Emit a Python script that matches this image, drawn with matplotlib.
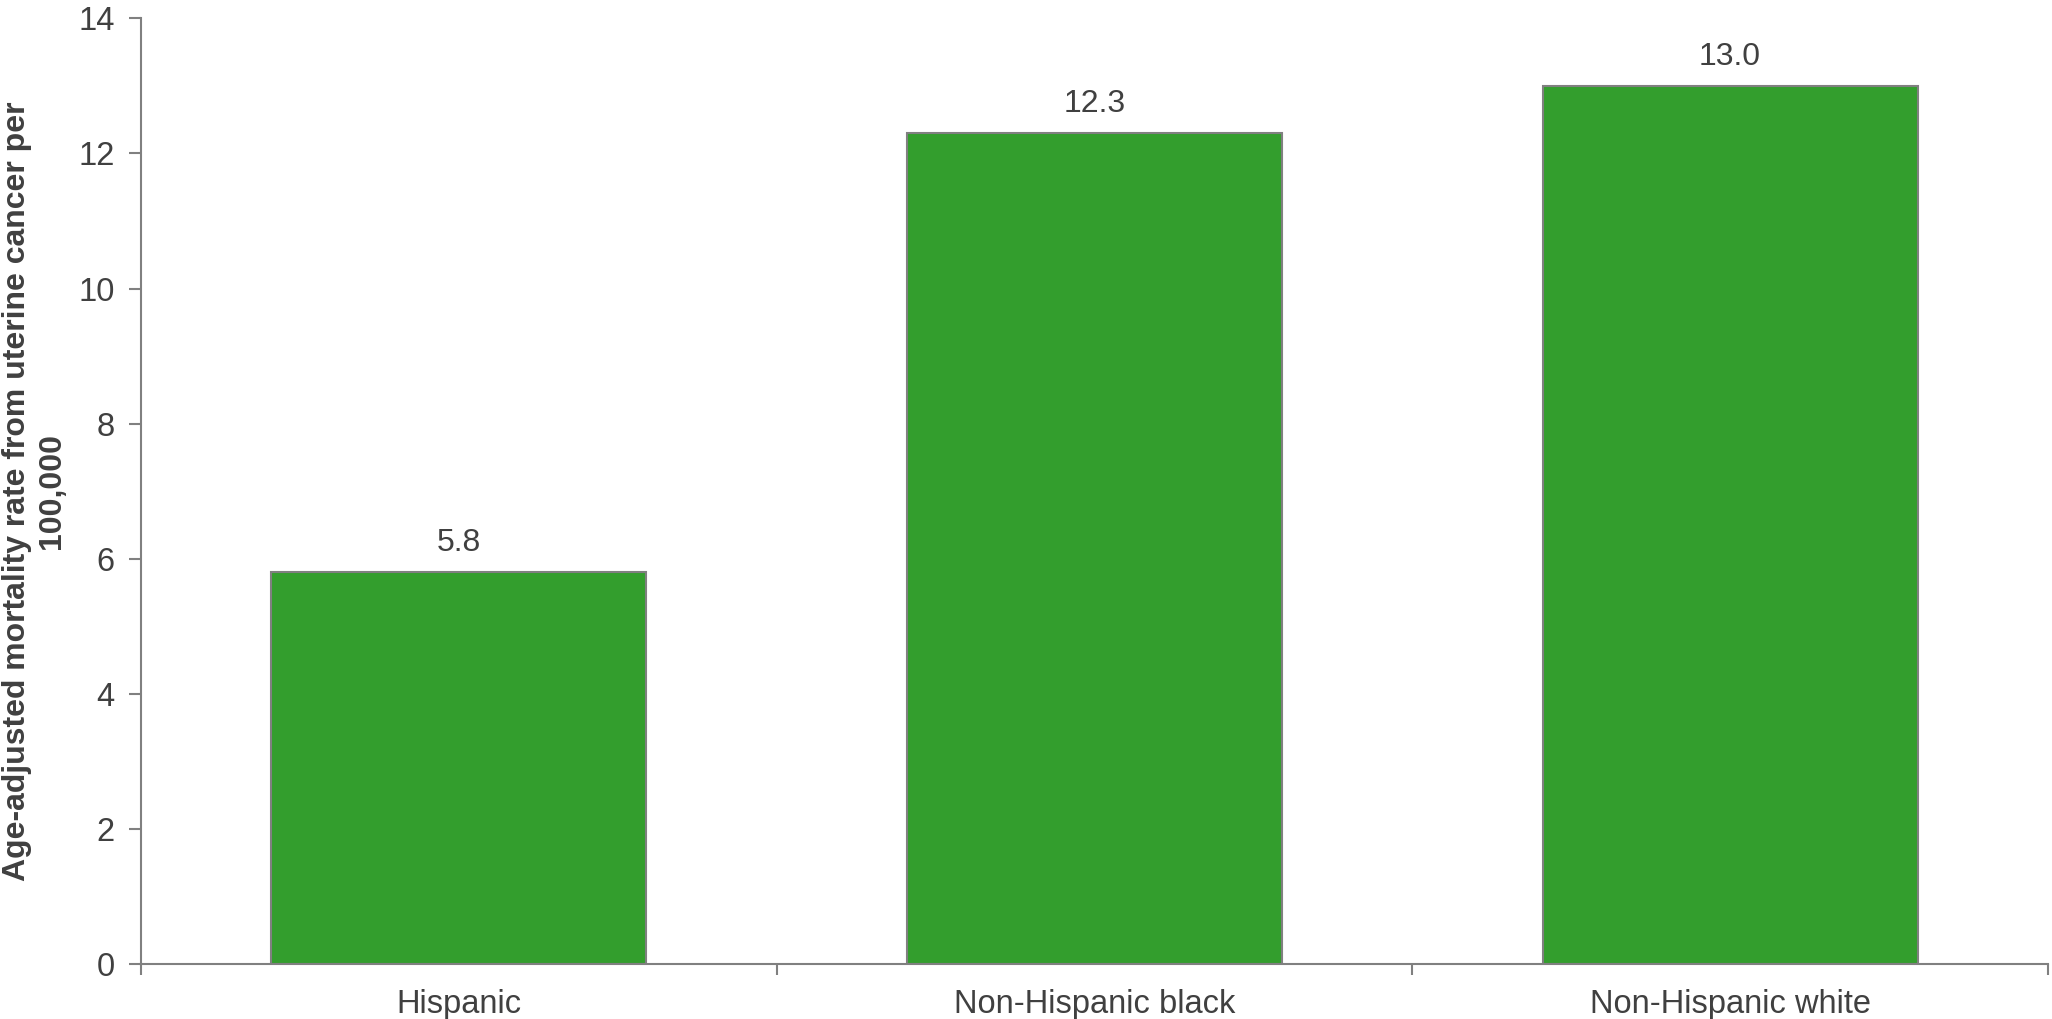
import matplotlib
matplotlib.use("Agg")
import matplotlib.pyplot as plt
import numpy as np

categories = ["Hispanic", "Non-Hispanic black", "Non-Hispanic white"]
values = [5.8, 12.3, 13.0]
value_labels = ["5.8", "12.3", "13.0"]
yticks = [0, 2, 4, 6, 8, 10, 12, 14]

plt.rcParams['font.family'] = ['Liberation Sans', 'DejaVu Sans']
txt = '#404040'
axc = '#808080'

fig = plt.figure(figsize=(20.52, 10.19), dpi=100)
ax = fig.add_axes([0.0687, 0.054, 0.9293, 0.928])

x = np.arange(len(categories))
bars = ax.bar(x, values, width=0.59, color='#339E2D', edgecolor=axc, linewidth=1.5, zorder=2)

for b, lab in zip(bars, value_labels):
    ax.annotate(lab, (b.get_x() + b.get_width() / 2, b.get_height()),
                xytext=(0, 10), textcoords='offset points',
                ha='center', va='bottom', fontsize=23, color=txt)

ax.set_xlim(-0.5, len(categories) - 0.5)
ax.set_ylim(0, 14)
ax.set_yticks(yticks)
ax.set_yticklabels([str(t) for t in yticks])

# category boundaries get the tick marks, names sit at the centres
ax.set_xticks(np.arange(-0.5, len(categories), 1.0))
ax.set_xticklabels([])
ax.set_xticks(x, minor=True)
ax.set_xticklabels(categories, minor=True)
ax.tick_params(axis='x', which='major', direction='out', length=8, width=1.5, color=axc)
ax.tick_params(axis='x', which='minor', length=0, pad=18, labelsize=23.5, labelcolor=txt)
ax.tick_params(axis='y', direction='out', length=9, width=1.5, color=axc, pad=10,
               labelsize=23.5, labelcolor=txt)

for s in ['top', 'right']:
    ax.spines[s].set_visible(False)
for s in ['left', 'bottom']:
    ax.spines[s].set_color(axc)
    ax.spines[s].set_linewidth(1.5)

ax.set_ylabel("Age-adjusted mortality rate from uterine cancer per\n100,000",
              fontsize=23, fontweight='bold', color=txt, labelpad=8)

fig.savefig("out.png", dpi=100)
